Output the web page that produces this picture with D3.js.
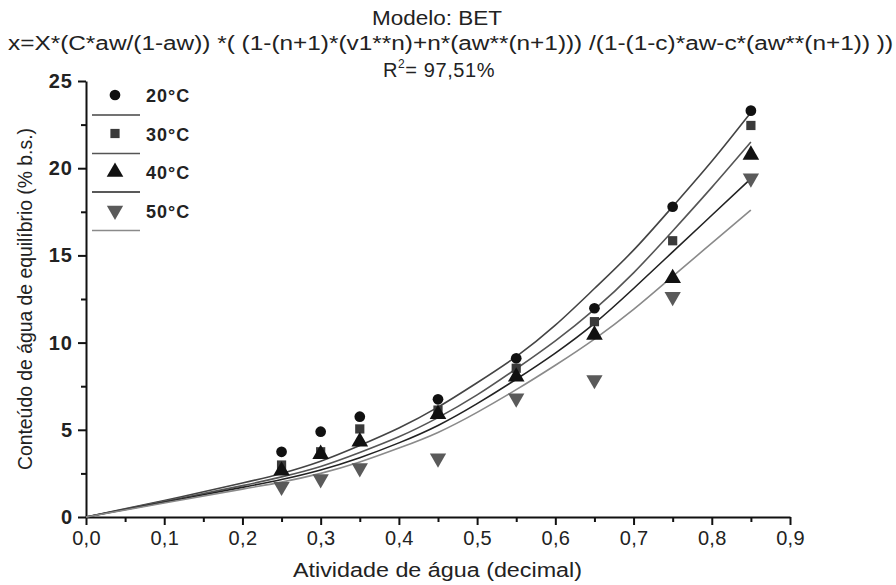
<!DOCTYPE html>
<html>
<head>
<meta charset="utf-8">
<script src="https://cdn.jsdelivr.net/npm/d3@7"></script>
<style>
  body { margin: 0; background: #fff; }
  text { font-family: "Liberation Sans", Arial, sans-serif; fill: #222; }
</style>
</head>
<body>
<div id="chart"></div>
<script>
// --------------------------------------------------------
// DATA
// --------------------------------------------------------
const series = ["20°C", "30°C", "40°C", "50°C"];

// measured points
const awObs = [0.25, 0.30, 0.35, 0.45, 0.55, 0.65, 0.75, 0.85];
const obs20 = [3.74, 4.89, 5.75, 6.75, 9.10, 11.97, 17.79, 23.30];
const obs30 = [2.98, 3.74, 5.05, 6.13, 8.53, 11.20, 15.84, 22.45];
const obs40 = [2.65, 3.60, 4.32, 5.90, 8.04, 10.44, 13.69, 20.76];
const obs50 = [1.74, 2.18, 2.81, 3.37, 6.81, 7.86, 12.63, 19.42];

// fitted BET curves
const awFit = [0, 0.1, 0.2, 0.25, 0.3, 0.35, 0.4, 0.45, 0.5, 0.55, 0.6, 0.65, 0.7, 0.75, 0.8, 0.85];
const fit20 = [0, 0.95, 1.95, 2.5, 3.2, 4.1, 5.1, 6.3, 7.7, 9.2, 11.0, 13.1, 15.3, 17.8, 20.4, 23.2];
const fit30 = [0, 0.9, 1.8, 2.3, 2.9, 3.7, 4.6, 5.7, 7.0, 8.5, 10.1, 11.9, 14.0, 16.4, 18.9, 21.5];
const fit40 = [0, 0.85, 1.7, 2.15, 2.7, 3.4, 4.25, 5.25, 6.5, 7.9, 9.4, 11.1, 13.1, 15.2, 17.3, 19.4];
const fit50 = [0, 0.8, 1.6, 2.0, 2.5, 3.15, 3.95, 4.85, 6.0, 7.3, 8.7, 10.2, 11.9, 13.8, 15.7, 17.6];

const xTicks = [0, 0.1, 0.2, 0.3, 0.4, 0.5, 0.6, 0.7, 0.8, 0.9];
const yTicks = [0, 5, 10, 15, 20, 25];

// --------------------------------------------------------
// SETUP
// --------------------------------------------------------
const width = 896;
const height = 585;

const obsData = [obs20, obs30, obs40, obs50];
const fitData = [fit20, fit30, fit40, fit50];
const symbols = [d3.symbolCircle, d3.symbolSquare, d3.symbolTriangle, d3.symbolTriangle];
const symSize = [90, 85, 120, 115];
const rotate = [0, 0, 0, 180];
const markFill = ["#111", "#3a3a3a", "#111", "#5a5a5a"];
const lineColor = ["#444", "#555", "#222", "#8a8a8a"];

const x = d3.scaleLinear().domain([0, 0.9]).range([86, 790]);
const y = d3.scaleLinear().domain([0, 25]).range([517, 81]);

const svg = d3.select("#chart").append("svg")
  .attr("width", width)
  .attr("height", height);

// titles
svg.append("text")
  .attr("x", 372).attr("y", 25)
  .attr("font-size", 20)
  .attr("textLength", 130)
  .attr("lengthAdjust", "spacingAndGlyphs")
  .text("Modelo: BET");

svg.append("text")
  .attr("x", 8).attr("y", 50)
  .attr("font-size", 20)
  .attr("textLength", 885)
  .attr("lengthAdjust", "spacingAndGlyphs")
  .text("x=X*(C*aw/(1-aw)) *( (1-(n+1)*(v1**n)+n*(aw**(n+1))) /(1-(1-c)*aw-c*(aw**(n+1)) ))");

const r2 = svg.append("text")
  .attr("x", 383).attr("y", 77)
  .attr("font-size", 20)
  .attr("letter-spacing", 0.6);
r2.append("tspan").text("R");
r2.append("tspan").attr("dy", -9).attr("font-size", 12).text("2");
r2.append("tspan").attr("dy", 9).text("= 97,51%");

// --------------------------------------------------------
// AXES
// --------------------------------------------------------
const comma = (d) => d3.format(".1f")(d).replace(".", ",");

const xAxis = svg.append("g")
  .attr("transform", `translate(0,${y(0)})`)
  .call(d3.axisBottom(x).tickValues(xTicks).tickFormat(comma).tickSize(8).tickSizeOuter(0));

svg.append("g")
  .attr("transform", `translate(0,${y(0)})`)
  .call(d3.axisBottom(x).tickValues(d3.range(0.05, 0.9, 0.1)).tickFormat("").tickSize(5).tickSizeOuter(0))
  .select(".domain").remove();

const yAxis = svg.append("g")
  .attr("transform", `translate(${x(0)},0)`)
  .call(d3.axisLeft(y).tickValues(yTicks).tickSize(8).tickSizeOuter(0));

svg.append("g")
  .attr("transform", `translate(${x(0)},0)`)
  .call(d3.axisLeft(y).tickValues(d3.range(2.5, 25, 5)).tickFormat("").tickSize(5).tickSizeOuter(0))
  .select(".domain").remove();

svg.selectAll(".domain").attr("stroke", "#111").attr("stroke-width", 2);
svg.selectAll(".tick line").attr("stroke", "#111").attr("stroke-width", 2);

xAxis.selectAll("text")
  .attr("font-size", 20)
  .attr("letter-spacing", 0.3)
  .attr("y", 10)
  .attr("dy", "0.9em")
  .attr("fill", "#222")
  .style("font-family", "'Liberation Sans', Arial, sans-serif");

yAxis.selectAll("text")
  .attr("font-size", 20)
  .attr("font-weight", "bold")
  .attr("letter-spacing", 1)
  .attr("x", -13)
  .attr("fill", "#222")
  .style("font-family", "'Liberation Sans', Arial, sans-serif");

svg.append("text")
  .attr("x", 293).attr("y", 577)
  .attr("font-size", 20)
  .attr("textLength", 289)
  .attr("lengthAdjust", "spacingAndGlyphs")
  .text("Atividade de água (decimal)");

svg.append("text")
  .attr("transform", "translate(32,470) rotate(-90)")
  .attr("font-size", 20)
  .attr("textLength", 342)
  .attr("lengthAdjust", "spacingAndGlyphs")
  .text("Conteúdo de água de equilíbrio (% b.s.)");

// --------------------------------------------------------
// CURVES + POINTS
// --------------------------------------------------------
const line = d3.line()
  .x((d) => x(d[0]))
  .y((d) => y(d[1]))
  .curve(d3.curveNatural);

fitData.forEach((vals, i) => {
  svg.append("path")
    .attr("fill", "none")
    .attr("stroke", lineColor[i])
    .attr("stroke-width", 1.6)
    .attr("d", line(awFit.map((a, j) => [a, vals[j]])));
});

obsData.forEach((vals, i) => {
  svg.append("g")
    .selectAll("path")
    .data(awObs.map((a, j) => [a, vals[j]]))
    .join("path")
    .attr("transform", (d) => `translate(${x(d[0])},${y(d[1])}) rotate(${rotate[i]})`)
    .attr("d", d3.symbol(symbols[i], symSize[i]))
    .attr("fill", markFill[i]);
});

// --------------------------------------------------------
// LEGEND
// --------------------------------------------------------
const legend = svg.append("g");
series.forEach((s, i) => {
  const yy = 95 + i * 38.5;
  legend.append("path")
    .attr("transform", `translate(115,${yy}) rotate(${rotate[i]})`)
    .attr("d", d3.symbol(symbols[i], symSize[i]))
    .attr("fill", markFill[i]);
  legend.append("text")
    .attr("x", 146).attr("y", yy + 7)
    .attr("font-size", 18)
    .attr("font-weight", "bold")
    .attr("letter-spacing", 1)
    .text(s);
  legend.append("line")
    .attr("x1", 92).attr("x2", 140)
    .attr("y1", yy + 20).attr("y2", yy + 20)
    .attr("stroke", lineColor[i])
    .attr("stroke-width", 1.6);
});
</script>
</body>
</html>
